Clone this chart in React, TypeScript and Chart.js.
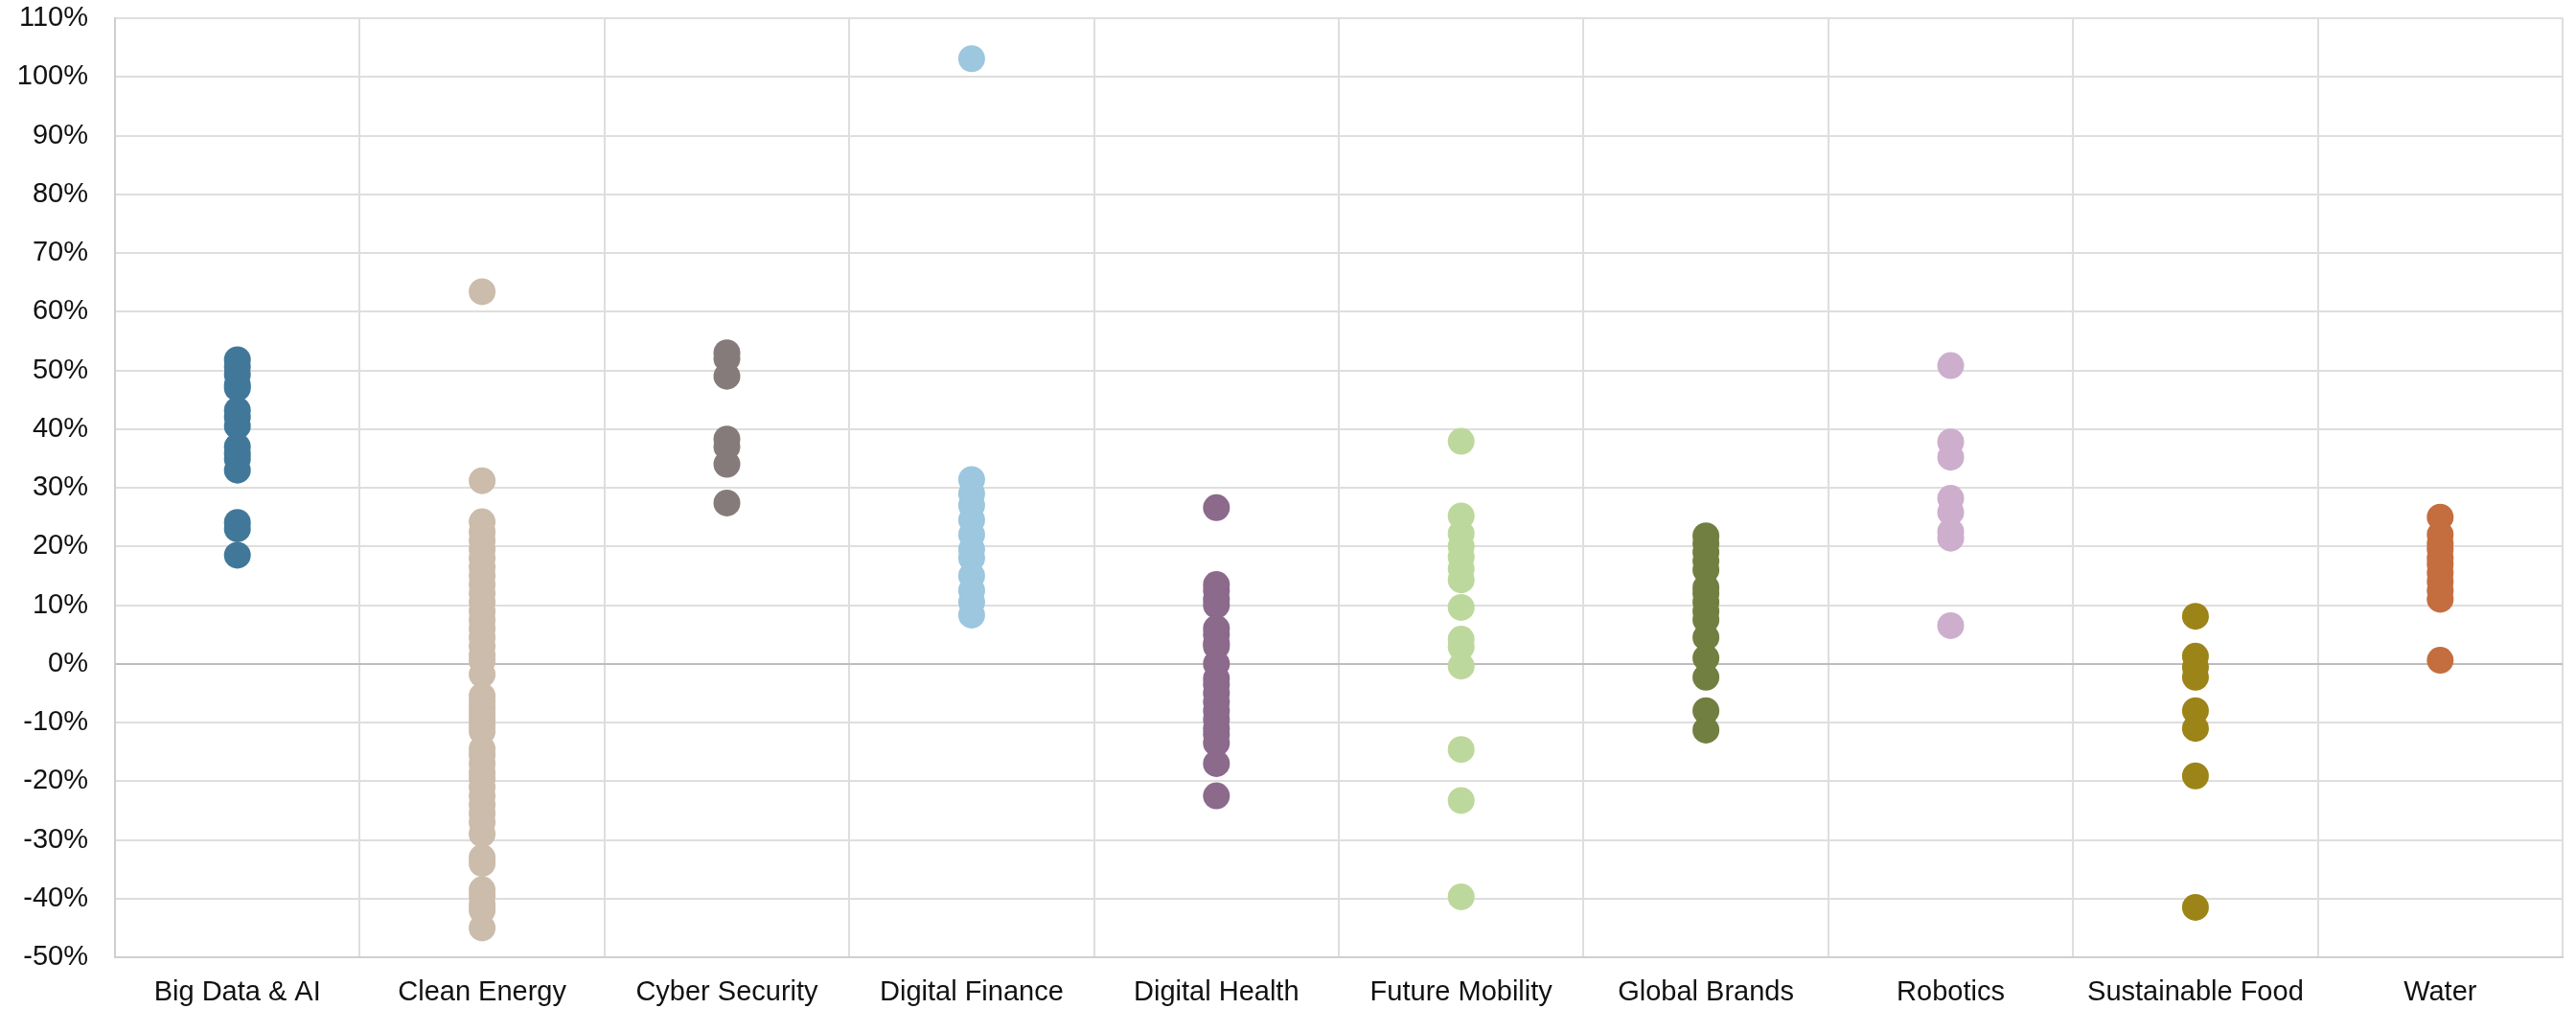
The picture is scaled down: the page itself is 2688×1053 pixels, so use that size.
import React, { useEffect, useRef } from "react";
import { Chart, registerables } from "chart.js";

Chart.register(...registerables);

const categories = [
  "Big Data & AI",
  "Clean Energy",
  "Cyber Security",
  "Digital Finance",
  "Digital Health",
  "Future Mobility",
  "Global Brands",
  "Robotics",
  "Sustainable Food",
  "Water",
];

const colors = [
  "#41789a",
  "#cbbcab",
  "#857b7b",
  "#9dc6df",
  "#8b6a8b",
  "#bdd89d",
  "#717f41",
  "#cdaecd",
  "#9c8419",
  "#c46d3f",
];

const bigDataAI = [51.8, 50.6, 49.3, 47.5, 47.0, 43.2, 42.0, 40.5, 37.0, 35.8, 34.9, 33.0, 24.1, 23.0, 18.5];
const cleanEnergy = [
  63.4, 31.2, 24.2, 22.5, 21.0, 19.5, 18.0, 16.5, 15.0, 13.5, 12.0, 10.5, 9.0, 7.5, 6.0, 4.5, 3.0,
  1.5, 0.5, -1.8, -5.5, -6.5, -7.5, -8.5, -9.5, -10.5, -11.5, -14.5, -15.5, -17.0, -18.5, -19.5,
  -21.0, -22.5, -24.0, -25.5, -27.0, -29.0, -33.0, -34.0, -38.5, -39.5, -41.0, -42.0, -45.0,
];
const cyberSecurity = [53.0, 52.0, 49.0, 38.3, 37.0, 34.0, 27.4];
const digitalFinance = [103.1, 31.4, 29.0, 27.0, 24.5, 22.0, 19.5, 18.0, 15.0, 12.5, 10.5, 8.3];
const digitalHealth = [
  26.6, 13.5, 12.5, 11.0, 10.0, 6.0, 5.0, 3.5, 3.0, 0.0, -2.5, -3.5, -5.0, -6.5, -8.0, -9.5, -11.0,
  -12.0, -13.5, -17.0, -22.5,
];
const futureMobility = [37.9, 25.2, 22.2, 20.0, 18.2, 16.2, 14.3, 9.6, 4.2, 2.9, -0.4, -14.6, -23.3, -39.7];
const globalBrands = [21.8, 20.5, 19.0, 17.5, 16.0, 13.0, 12.0, 10.5, 9.0, 7.5, 4.5, 1.0, -2.3, -8.0, -11.3];
const robotics = [50.8, 37.8, 35.2, 28.2, 25.8, 22.5, 21.4, 6.5];
const sustainableFood = [8.1, 1.3, -0.6, -2.3, -8.0, -11.0, -19.1, -41.5];
const water = [25.0, 22.0, 20.5, 19.5, 18.0, 17.0, 15.5, 14.0, 12.5, 11.0, 0.6];

const seriesValues = [
  bigDataAI,
  cleanEnergy,
  cyberSecurity,
  digitalFinance,
  digitalHealth,
  futureMobility,
  globalBrands,
  robotics,
  sustainableFood,
  water,
];

const yMin = -50;
const yMax = 110;
const yStep = 10;

const FONT = "'Liberation Sans', Arial, Helvetica, sans-serif";

export default function App() {
  const canvasRef = useRef<HTMLCanvasElement | null>(null);

  useEffect(() => {
    document.body.style.margin = "0";
    const canvas = canvasRef.current;
    if (!canvas) return;
    const chart = new Chart(canvas, {
      type: "scatter",
      data: {
        labels: categories,
        datasets: categories.map((cat, i) => ({
          label: cat,
          data: seriesValues[i].map((v) => ({ x: cat, y: v })),
          backgroundColor: colors[i],
          borderColor: colors[i],
          borderWidth: 0,
          pointRadius: 14,
          pointHoverRadius: 14,
        })),
      },
      options: {
        animation: false,
        responsive: false,
        devicePixelRatio: 1,
        layout: { padding: { left: 16, right: 14, top: 19, bottom: 0 } },
        plugins: {
          legend: { display: false },
          tooltip: { enabled: false },
        },
        scales: {
          x: {
            type: "category",
            labels: categories,
            offset: true,
            afterFit: (scale: any) => {
              scale.paddingLeft = 0;
              scale.paddingRight = 0;
              scale.height = 54;
            },
            grid: {
              offset: true,
              color: "#dedede",
              lineWidth: 2,
              drawTicks: false,
            },
            border: { color: "#cfcfcf", width: 2 },
            ticks: {
              padding: 20,
              color: "#111",
              font: { family: FONT, size: 29 },
              autoSkip: false,
              maxRotation: 0,
            },
          },
          y: {
            type: "linear",
            min: yMin,
            max: yMax,
            afterFit: (scale: any) => {
              scale.paddingTop = 0;
              scale.paddingBottom = 0;
              scale.width = 104;
            },
            grid: {
              color: (ctx: any) => (ctx.tick && ctx.tick.value === 0 ? "#bdbdbd" : "#dedede"),
              lineWidth: 2,
              drawTicks: false,
            },
            border: { color: "#cfcfcf", width: 2 },
            ticks: {
              stepSize: yStep,
              padding: 28,
              color: "#111",
              font: { family: FONT, size: 29 },
              callback: (v: any) => `${v}%`,
            },
          },
        },
      },
    });
    return () => chart.destroy();
  }, []);

  return (
    <div style={{ width: 2688, height: 1053, position: "relative", background: "#fff" }}>
      <canvas ref={canvasRef} width={2688} height={1053} style={{ display: "block" }} />
    </div>
  );
}
